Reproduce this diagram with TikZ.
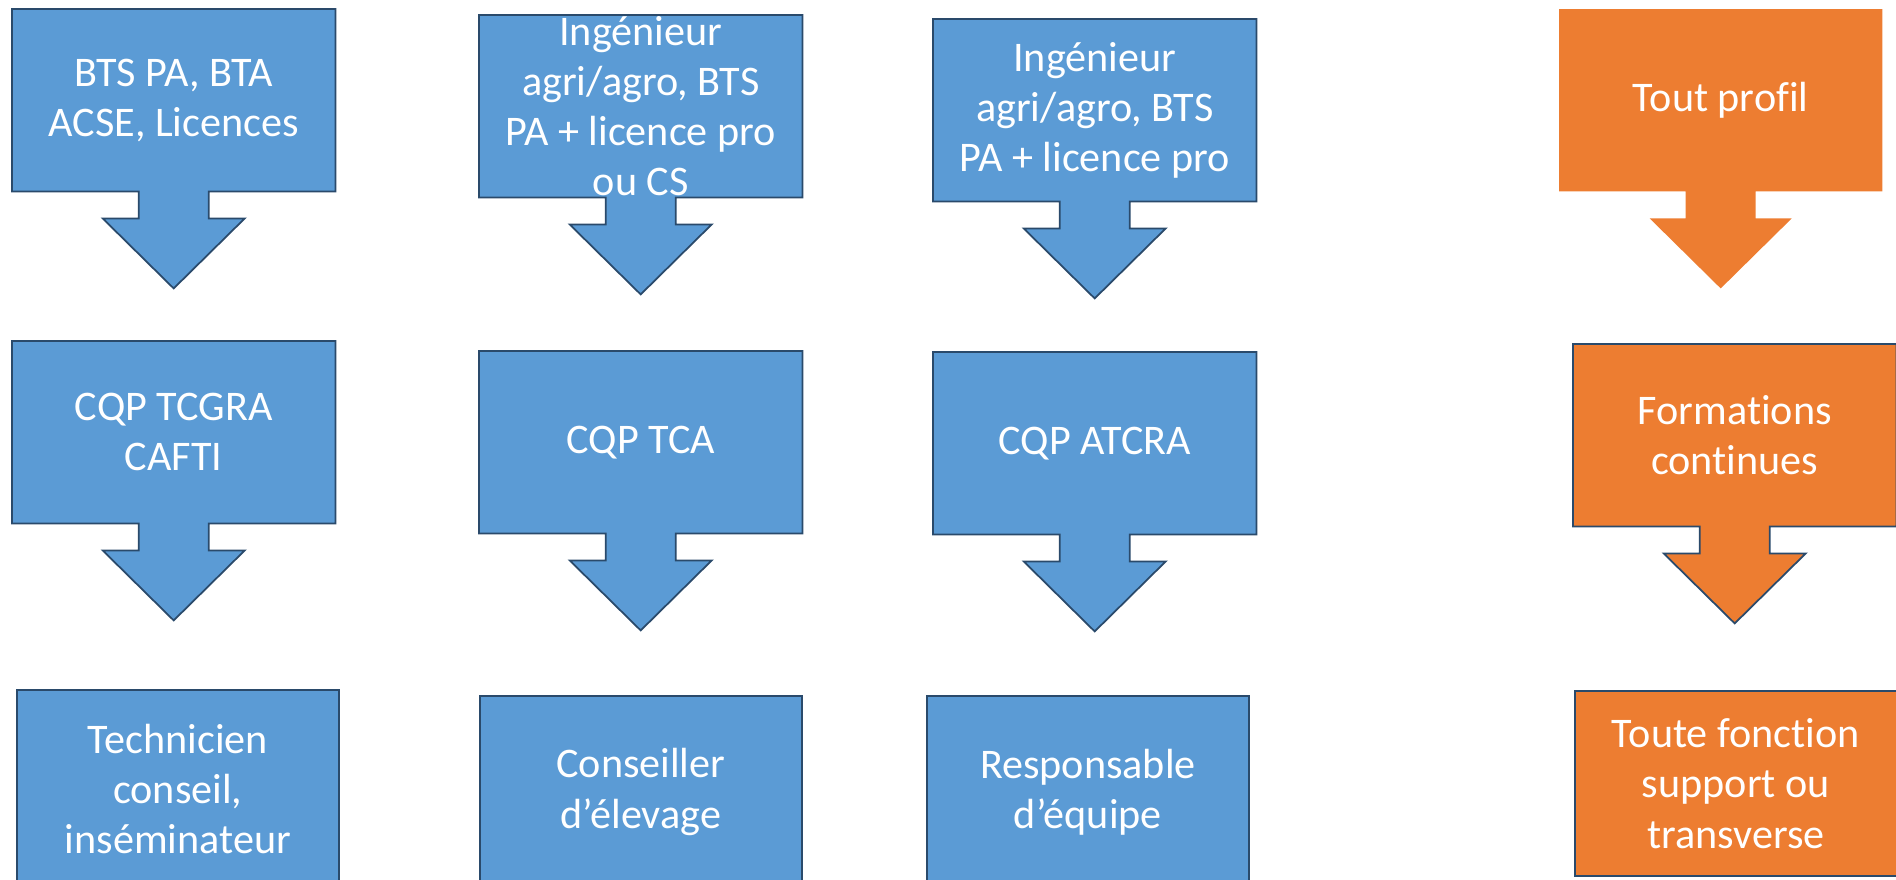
\documentclass[tikz,border=0pt]{standalone}
\usepackage{fontspec}
\setmainfont{Carlito}[Ligatures=NoCommon]
\usepackage{tikz}
\usetikzlibrary{calc}
\usepackage{xcolor}
\definecolor{officeblue}{HTML}{5B9BD5}
\definecolor{officeorange}{HTML}{ED7D31}
\definecolor{outlinenavy}{HTML}{2A4A6B}
\tikzstyle{blueshape}=[fill=officeblue, draw=outlinenavy, line width=.5pt]
\tikzstyle{orangeshape}=[fill=officeorange, draw=outlinenavy, line width=.5pt]
\tikzstyle{orangeflat}=[fill=officeorange, draw=none]
\tikzstyle{cbox}=[rectangle, inner sep=0pt, minimum width=3.22cm, minimum height=1.81cm]
\tikzstyle{boxtext}=[text=white, align=center, inner sep=0pt, font=\fontsize{12}{14.3}\selectfont]
\newcommand{\downcallout}[4]{
 \node[cbox, anchor=north west] (#2) at #3 {};
 \filldraw[#1] (#2.north west) -- (#2.north east) -- (#2.south east) --
  ($(#2.south)+(.35,0)$) -- ++(0,-.27) -- ++(.36,0) -- ($(#2.south)+(0,-.97)$) --
  ($(#2.south)+(-.71,-.27)$) -- ++(.36,0) -- ++(0,.27) -- (#2.south west) -- cycle;
 \node[boxtext] (#2-txt) at (#2.center) {#4};
}
\newcommand{\jobbox}[5]{
 \node[cbox, anchor=north west, minimum height=#3, #1] (#2) at #4 {};
 \node[boxtext] (#2-txt) at (#2.center) {#5};
}

\begin{document}
\begin{tikzpicture}
 \useasboundingbox (0,0) rectangle (18.96,-8.79);
 \clip (0,0) rectangle (18.96,-8.79);
%
 \downcallout{blueshape}{bts}{(.12,-.09)}{BTS PA, BTA\\ACSE, Licences}
 \downcallout{blueshape}{ingcs}{(4.79,-.15)}{Ingénieur\\agri/agro, BTS\\PA + licence pro\\ou CS}
 \downcallout{blueshape}{ing}{(9.33,-.19)}{Ingénieur\\agri/agro, BTS\\PA + licence pro}
 \downcallout{orangeflat}{profil}{(15.59,-.09)}{Tout profil}
%
 \downcallout{blueshape}{tcgra}{(.12,-3.41)}{CQP TCGRA\\CAFTI}
 \downcallout{blueshape}{tca}{(4.79,-3.51)}{CQP TCA}
 \downcallout{blueshape}{atcra}{(9.33,-3.52)}{CQP ATCRA}
 \downcallout{orangeshape}{formations}{(15.73,-3.44)}{Formations\\continues}
%
 \jobbox{blueshape}{technicien}{1.98cm}{(.16,-6.89)}{Technicien\\conseil,\\inséminateur}
 \jobbox{blueshape}{conseiller}{1.92cm}{(4.79,-6.95)}{Conseiller\\d’élevage}
 \jobbox{blueshape}{responsable}{1.92cm}{(9.26,-6.95)}{Responsable\\d’équipe}
 \jobbox{orangeshape}{fonction}{1.85cm}{(15.74,-6.90)}{Toute fonction\\support ou\\transverse}
\end{tikzpicture}
\end{document}
